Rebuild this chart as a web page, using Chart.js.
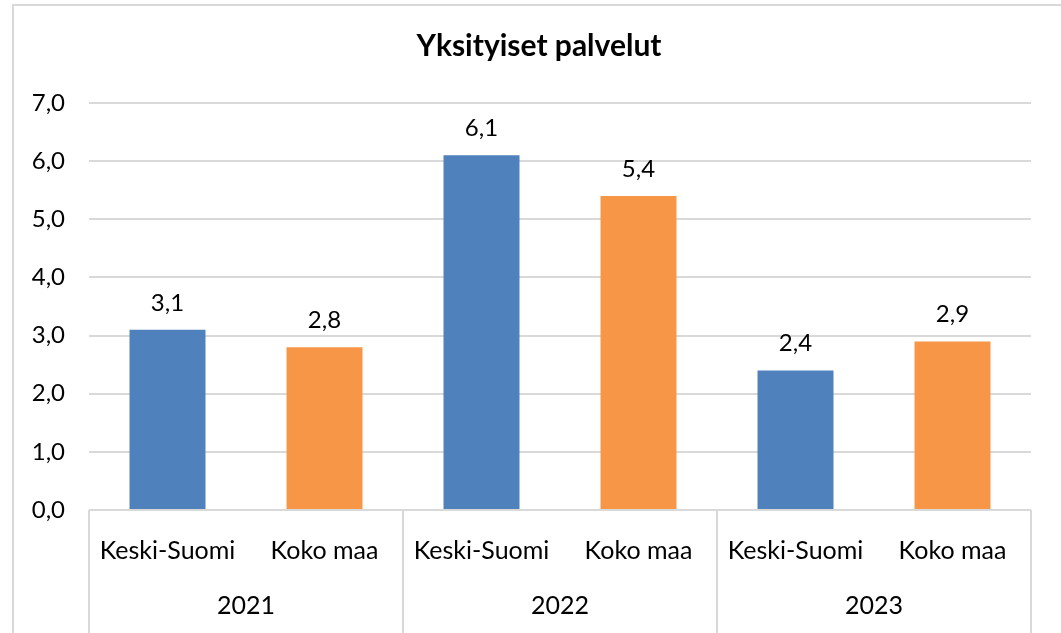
<!DOCTYPE html>
<html>
<head>
<meta charset="utf-8">
<script src="https://cdn.jsdelivr.net/npm/chart.js@4.4.1/dist/chart.umd.min.js"></script>
<style>
    html, body { margin: 0; padding: 0; background: #ffffff; }
</style>
</head>
<body>
<canvas id="Palvelut_Chart" width="1061" height="633"></canvas>
<script>
// data
const chartTitle = 'Yksityiset palvelut';
const years = ['2021', '2022', '2023'];
const regions = ['Keski-Suomi', 'Koko maa'];
const keskiSuomi = [3.1, 6.1, 2.4];
const kokoMaa = [2.8, 5.4, 2.9];
const yMin = 0;
const yMax = 7;
const yStep = 1;

const blue = '#4F81BD';
const orange = '#F79646';
const gridColor = '#d9d9d9';
const fontFamily = "Lato, 'Open Sans', sans-serif";

// flat category list: Keski-Suomi, Koko maa for each year
var labels = [];
var values = [];
var colors = [];
years.forEach(function (y, i) {
    labels.push(regions[0], regions[1]);
    values.push(keskiSuomi[i], kokoMaa[i]);
    colors.push(blue, orange);
});

function fmt(v) {
    return Number(v).toFixed(1).replace('.', ',');
}

// outer frame of the chart + title (centred on the frame, not the plot)
const framePlugin = {
    id: 'frame',
    beforeDraw: function (chart) {
        var ctx = chart.ctx;
        ctx.save();
        ctx.fillStyle = '#ffffff';
        ctx.fillRect(0, 0, chart.width, chart.height);
        ctx.strokeStyle = '#d9d9d9';
        ctx.lineWidth = 2;
        ctx.strokeRect(13, 5, chart.width + 50, chart.height + 50);

        ctx.fillStyle = '#000000';
        ctx.font = 'bold 30px ' + fontFamily;
        ctx.textAlign = 'center';
        ctx.textBaseline = 'middle';
        ctx.fillText(chartTitle, 539, 46);
        ctx.restore();
    }
};

// value labels above bars
const valueLabels = {
    id: 'valueLabels',
    afterDatasetsDraw: function (chart) {
        var ctx = chart.ctx;
        ctx.save();
        ctx.font = '24px ' + fontFamily;
        ctx.fillStyle = '#000000';
        ctx.textAlign = 'center';
        ctx.textBaseline = 'alphabetic';
        chart.getDatasetMeta(0).data.forEach(function (bar, i) {
            ctx.fillText(fmt(values[i]), bar.x, bar.y - 19);
        });
        ctx.restore();
    }
};

// vertical separators between year groups
const groupLines = {
    id: 'groupLines',
    afterDraw: function (chart) {
        var ctx = chart.ctx;
        var xs = chart.scales.x;
        var area = chart.chartArea;
        ctx.save();
        ctx.strokeStyle = gridColor;
        ctx.lineWidth = 2;
        for (var g = 0; g <= years.length; g++) {
            var px;
            if (g === 0) px = area.left;
            else if (g === years.length) px = area.right;
            else {
                var idx = g * regions.length;
                px = (xs.getPixelForValue(idx - 1) + xs.getPixelForValue(idx)) / 2;
            }
            ctx.beginPath();
            ctx.moveTo(px, area.bottom);
            ctx.lineTo(px, chart.height);
            ctx.stroke();
        }
        ctx.restore();
    }
};

var Palvelut_Chart = new Chart(document.getElementById('Palvelut_Chart'), {
    type: 'bar',
    data: {
        labels: labels,
        datasets: [{
            data: values,
            backgroundColor: colors,
            barPercentage: 0.484,
            categoryPercentage: 1.0
        }]
    },
    options: {
        responsive: false,
        animation: false,
        layout: {
            padding: { left: 0, right: 30, top: 103, bottom: 0 }
        },
        plugins: {
            legend: { display: false },
            tooltip: { enabled: false },
            title: { display: false }
        },
        scales: {
            x: {
                grid: { display: false },
                border: { display: false },
                ticks: {
                    color: '#000000',
                    padding: 18,
                    font: { family: fontFamily, size: 25 }
                },
                afterFit: function (scale) { scale.height = 70; }
            },
            x2: {
                type: 'category',
                labels: years,
                position: 'bottom',
                offset: true,
                grid: { display: false },
                border: { display: false },
                ticks: {
                    color: '#000000',
                    padding: 3,
                    font: { family: fontFamily, size: 25 }
                },
                afterFit: function (scale) { scale.height = 53; }
            },
            y: {
                min: yMin,
                max: yMax,
                grid: { color: gridColor, lineWidth: 2, drawTicks: false },
                border: { display: false },
                ticks: {
                    stepSize: yStep,
                    color: '#000000',
                    padding: 24,
                    font: { family: fontFamily, size: 24 },
                    callback: function (v) { return fmt(v); }
                },
                afterFit: function (scale) { scale.width = 89; }
            }
        }
    },
    plugins: [framePlugin, valueLabels, groupLines]
});
</script>
</body>
</html>
